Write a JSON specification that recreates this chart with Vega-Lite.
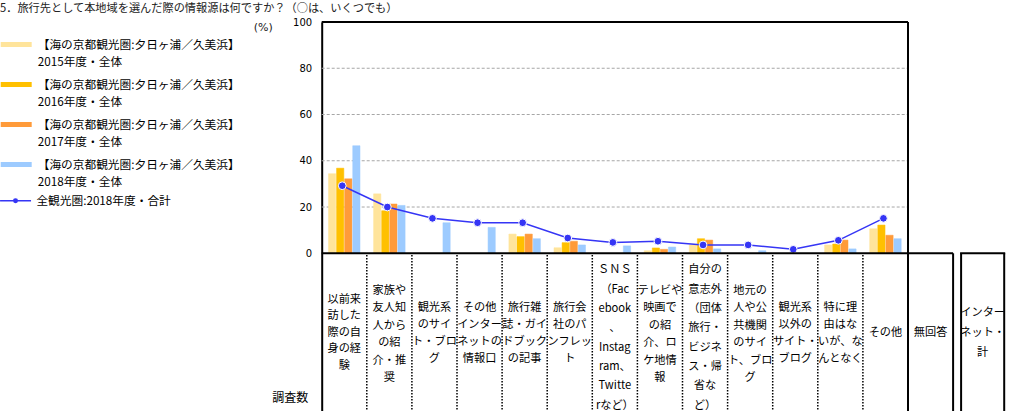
{
  "$schema": "https://vega.github.io/schema/vega-lite/v6.json",
  "autosize": {"type": "none"},
  "width": 676.5,
  "height": 389,
  "padding": {"left": 321.7, "top": 22, "right": 10.8, "bottom": 0},
  "background": "white",
  "title": {
    "text": "5．旅行先として本地域を選んだ際の情報源は何ですか？（○は、いくつでも）",
    "anchor": "start",
    "frame": "group",
    "dx": -321.7,
    "dy": 1,
    "offset": 4,
    "font": "Noto Sans CJK JP",
    "fontSize": 11.2,
    "fontWeight": "normal",
    "color": "#222"
  },
  "config": {
    "view": {"stroke": null},
    "style": {"guide-label": {"lineHeight": 17}},
    "axisY": {
      "grid": false, "ticks": false,
      "domain": true, "domainColor": "black", "domainWidth": 2,
      "labelFont": "DejaVu Sans", "labelFontSize": 10, "labelColor": "black", "labelPadding": 10,
      "titleFont": "DejaVu Sans", "titleFontSize": 11, "titleFontWeight": "normal", "titleColor": "#222"
    }
  },
  "datasets": {
    "bars": [
      {"cat": "以前来訪した際の自身の経験", "series": "2015年度・全体", "value": 34.4},
      {"cat": "以前来訪した際の自身の経験", "series": "2016年度・全体", "value": 36.8},
      {"cat": "以前来訪した際の自身の経験", "series": "2017年度・全体", "value": 32.2},
      {"cat": "以前来訪した際の自身の経験", "series": "2018年度・全体", "value": 46.5},
      {"cat": "家族や友人知人からの紹介・推奨", "series": "2015年度・全体", "value": 25.7},
      {"cat": "家族や友人知人からの紹介・推奨", "series": "2016年度・全体", "value": 18.4},
      {"cat": "家族や友人知人からの紹介・推奨", "series": "2017年度・全体", "value": 21.3},
      {"cat": "家族や友人知人からの紹介・推奨", "series": "2018年度・全体", "value": 20.7},
      {"cat": "観光系のサイト・ブログ", "series": "2018年度・全体", "value": 13.2},
      {"cat": "その他インターネットの情報口コミ", "series": "2018年度・全体", "value": 11.2},
      {"cat": "旅行雑誌・ガイドブックの記事", "series": "2015年度・全体", "value": 8.3},
      {"cat": "旅行雑誌・ガイドブックの記事", "series": "2016年度・全体", "value": 7.2},
      {"cat": "旅行雑誌・ガイドブックの記事", "series": "2017年度・全体", "value": 8.3},
      {"cat": "旅行雑誌・ガイドブックの記事", "series": "2018年度・全体", "value": 6.3},
      {"cat": "旅行会社のパンフレット", "series": "2015年度・全体", "value": 2.4},
      {"cat": "旅行会社のパンフレット", "series": "2016年度・全体", "value": 4.6},
      {"cat": "旅行会社のパンフレット", "series": "2017年度・全体", "value": 5.2},
      {"cat": "旅行会社のパンフレット", "series": "2018年度・全体", "value": 3.6},
      {"cat": "SNS（Facebook、Instagram、Twitterなど）", "series": "2018年度・全体", "value": 3.2},
      {"cat": "テレビや映画での紹介、ロケ地情報", "series": "2015年度・全体", "value": 1.1},
      {"cat": "テレビや映画での紹介、ロケ地情報", "series": "2016年度・全体", "value": 2.3},
      {"cat": "テレビや映画での紹介、ロケ地情報", "series": "2017年度・全体", "value": 1.7},
      {"cat": "テレビや映画での紹介、ロケ地情報", "series": "2018年度・全体", "value": 2.7},
      {"cat": "自分の意志外（団体旅行・ビジネス・帰省など）", "series": "2015年度・全体", "value": 3.6},
      {"cat": "自分の意志外（団体旅行・ビジネス・帰省など）", "series": "2016年度・全体", "value": 6.3},
      {"cat": "自分の意志外（団体旅行・ビジネス・帰省など）", "series": "2017年度・全体", "value": 5.7},
      {"cat": "自分の意志外（団体旅行・ビジネス・帰省など）", "series": "2018年度・全体", "value": 1.9},
      {"cat": "地元の人や公共機関のサイト、ブログ", "series": "2018年度・全体", "value": 1.1},
      {"cat": "特に理由はないが、なんとなく", "series": "2015年度・全体", "value": 3.6},
      {"cat": "特に理由はないが、なんとなく", "series": "2016年度・全体", "value": 4.0},
      {"cat": "特に理由はないが、なんとなく", "series": "2017年度・全体", "value": 5.7},
      {"cat": "特に理由はないが、なんとなく", "series": "2018年度・全体", "value": 1.9},
      {"cat": "その他", "series": "2015年度・全体", "value": 10.6},
      {"cat": "その他", "series": "2016年度・全体", "value": 12.2},
      {"cat": "その他", "series": "2017年度・全体", "value": 7.8},
      {"cat": "その他", "series": "2018年度・全体", "value": 6.3}
    ],
    "line": [
      {"cat": "以前来訪した際の自身の経験", "series": "全観光圏:2018年度・合計", "value": 29.2},
      {"cat": "家族や友人知人からの紹介・推奨", "series": "全観光圏:2018年度・合計", "value": 20.0},
      {"cat": "観光系のサイト・ブログ", "series": "全観光圏:2018年度・合計", "value": 15.1},
      {"cat": "その他インターネットの情報口コミ", "series": "全観光圏:2018年度・合計", "value": 13.2},
      {"cat": "旅行雑誌・ガイドブックの記事", "series": "全観光圏:2018年度・合計", "value": 13.2},
      {"cat": "旅行会社のパンフレット", "series": "全観光圏:2018年度・合計", "value": 6.6},
      {"cat": "SNS（Facebook、Instagram、Twitterなど）", "series": "全観光圏:2018年度・合計", "value": 4.7},
      {"cat": "テレビや映画での紹介、ロケ地情報", "series": "全観光圏:2018年度・合計", "value": 5.2},
      {"cat": "自分の意志外（団体旅行・ビジネス・帰省など）", "series": "全観光圏:2018年度・合計", "value": 3.6},
      {"cat": "地元の人や公共機関のサイト、ブログ", "series": "全観光圏:2018年度・合計", "value": 3.6},
      {"cat": "観光系以外のサイト・ブログ", "series": "全観光圏:2018年度・合計", "value": 1.7},
      {"cat": "特に理由はないが、なんとなく", "series": "全観光圏:2018年度・合計", "value": 5.6},
      {"cat": "その他", "series": "全観光圏:2018年度・合計", "value": 15.1}
    ],
    "cats": [
      {"cat": "以前来訪した際の自身の経験", "lines": ["以前来", "訪した", "際の自", "身の経", "験"]},
      {"cat": "家族や友人知人からの紹介・推奨", "lines": ["家族や", "友人知", "人から", "の紹", "介・推", "奨"]},
      {"cat": "観光系のサイト・ブログ", "lines": ["観光系", "のサイ", "ト・ブロ", "グ"]},
      {"cat": "その他インターネットの情報口コミ", "lines": ["その他", "インター", "ネットの", "情報口"]},
      {"cat": "旅行雑誌・ガイドブックの記事", "lines": ["旅行雑", "誌・ガイ", "ドブック", "の記事"]},
      {"cat": "旅行会社のパンフレット", "lines": ["旅行会", "社のパ", "ンフレッ", "ト"]},
      {"cat": "SNS（Facebook、Instagram、Twitterなど）", "lines": ["ＳＮＳ", "（Fac", "ebook", "、", "Instag", "ram、", "Twitte", "rなど）"]},
      {"cat": "テレビや映画での紹介、ロケ地情報", "lines": ["テレビや", "映画で", "の紹", "介、ロ", "ケ地情", "報"]},
      {"cat": "自分の意志外（団体旅行・ビジネス・帰省など）", "lines": ["自分の", "意志外", "（団体", "旅行・", "ビジネ", "ス・帰", "省な", "ど）"]},
      {"cat": "地元の人や公共機関のサイト、ブログ", "lines": ["地元の", "人や公", "共機関", "のサイ", "ト、ブロ", "グ"]},
      {"cat": "観光系以外のサイト・ブログ", "lines": ["観光系", "以外の", "サイト・", "ブログ"]},
      {"cat": "特に理由はないが、なんとなく", "lines": ["特に理", "由はな", "いが、な", "んとなく"]},
      {"cat": "その他", "lines": ["その他"]},
      {"cat": "無回答", "lines": ["無回答"]},
      {"cat": "インターネット計", "lines": ["インター", "ネット・", "計"]}
    ],
    "seps": [
      {"cat": "家族や友人知人からの紹介・推奨"},
      {"cat": "観光系のサイト・ブログ"},
      {"cat": "その他インターネットの情報口コミ"},
      {"cat": "旅行雑誌・ガイドブックの記事"},
      {"cat": "旅行会社のパンフレット"},
      {"cat": "SNS（Facebook、Instagram、Twitterなど）"},
      {"cat": "テレビや映画での紹介、ロケ地情報"},
      {"cat": "自分の意志外（団体旅行・ビジネス・帰省など）"},
      {"cat": "地元の人や公共機関のサイト、ブログ"},
      {"cat": "観光系以外のサイト・ブログ"},
      {"cat": "特に理由はないが、なんとなく"},
      {"cat": "その他"}
    ],
    "grid": [{"g": 20}, {"g": 40}, {"g": 60}, {"g": 80}],
    "one": [{"t": "調査数"}]
  },
  "layer": [
    {
      "data": {"name": "grid"},
      "mark": {"type": "rule", "color": "#a6a6a6", "strokeWidth": 1, "strokeDash": [3, 2]},
      "encoding": {
        "y": {"field": "g", "type": "quantitative"},
        "x": {"datum": "以前来訪した際の自身の経験", "type": "nominal", "bandPosition": 0, "axis": null},
        "x2": {"datum": "その他", "bandPosition": 1}
      }
    },
    {
      "data": {"name": "bars"},
      "mark": {"type": "bar", "strokeWidth": 0.5},
      "encoding": {
        "x": {
          "field": "cat", "type": "nominal", "axis": null,
          "scale": {
            "domain": ["以前来訪した際の自身の経験", "家族や友人知人からの紹介・推奨", "観光系のサイト・ブログ", "その他インターネットの情報口コミ", "旅行雑誌・ガイドブックの記事", "旅行会社のパンフレット", "SNS（Facebook、Instagram、Twitterなど）", "テレビや映画での紹介、ロケ地情報", "自分の意志外（団体旅行・ビジネス・帰省など）", "地元の人や公共機関のサイト、ブログ", "観光系以外のサイト・ブログ", "特に理由はないが、なんとなく", "その他", "無回答", "インターネット計"],
            "paddingInner": 0, "paddingOuter": 0
          }
        },
        "xOffset": {
          "field": "series", "type": "nominal",
          "scale": {"domain": ["2015年度・全体", "2016年度・全体", "2017年度・全体", "2018年度・全体"], "paddingInner": 0.1, "paddingOuter": 0.84}
        },
        "y": {
          "field": "value", "type": "quantitative",
          "scale": {"domain": [-68.2, 100], "nice": false, "zero": false},
          "axis": {
            "values": [0, 20, 40, 60, 80, 100],
            "title": "(%)", "titleAngle": 0, "titleX": -59, "titleY": 5, "titleAlign": "center", "titleBaseline": "middle"
          }
        },
        "y2": {"datum": 0},
        "fill": {
          "field": "series", "type": "nominal",
          "scale": {
            "domain": ["2015年度・全体", "2016年度・全体", "2017年度・全体", "2018年度・全体"],
            "range": ["#FFE49B", "#FFC000", "#FF9B3A", "#9DCBFF"]
          },
          "legend": {
            "orient": "none", "legendX": -320, "legendY": 16,
            "title": null, "padding": 0,
            "symbolType": "M-4,0H4", "symbolSize": 60, "symbolStrokeWidth": 5, "symbolOffset": 8,
            "labelFont": "Noto Sans CJK JP", "labelFontSize": 11.7, "labelColor": "black",
            "labelLimit": 0, "labelOffset": 15, "rowPadding": 5, "labelBaseline": "middle",
            "labelExpr": "['【海の京都観光圏:夕日ヶ浦／久美浜】', datum.label]"
          }
        },
        "stroke": {
          "field": "series", "type": "nominal",
          "scale": {
            "domain": ["2015年度・全体", "2016年度・全体", "2017年度・全体", "2018年度・全体"],
            "range": ["#FFE49B", "#FFC000", "#FF9B3A", "#9DCBFF"]
          },
          "legend": {
            "orient": "none", "legendX": -320, "legendY": 16,
            "title": null, "padding": 0,
            "symbolType": "M-4,0H4", "symbolSize": 60, "symbolStrokeWidth": 5, "symbolOffset": 8,
            "labelFont": "Noto Sans CJK JP", "labelFontSize": 11.7, "labelColor": "black",
            "labelLimit": 0, "labelOffset": 15, "rowPadding": 5, "labelBaseline": "middle",
            "labelExpr": "['【海の京都観光圏:夕日ヶ浦／久美浜】', datum.label]"
          }
        }
      }
    },
    {
      "data": {"name": "line"},
      "mark": {"type": "line", "strokeWidth": 1.5, "xOffset": -2},
      "encoding": {
        "x": {"field": "cat", "type": "nominal", "axis": null},
        "y": {"field": "value", "type": "quantitative"},
        "color": {
          "field": "series", "type": "nominal",
          "scale": {"domain": ["全観光圏:2018年度・合計"], "range": ["#3535F5"]},
          "legend": {
            "orient": "none", "legendX": -320, "legendY": 173,
            "title": null, "padding": 0,
            "symbolType": "M-4,0H4M-0.45,0A0.45,0.45,0,1,0,0.45,0A0.45,0.45,0,1,0,-0.45,0",
            "symbolSize": 60, "symbolStrokeWidth": 1.5, "symbolOffset": 8, "symbolFillColor": "#3535F5",
            "labelFont": "Noto Sans CJK JP", "labelFontSize": 11.7, "labelColor": "black",
            "labelLimit": 0, "labelOffset": 15, "labelBaseline": "middle"
          }
        }
      }
    },
    {
      "data": {"name": "line"},
      "mark": {"type": "point", "filled": true, "size": 60, "color": "#3535F5", "stroke": "white", "strokeWidth": 1, "opacity": 1, "xOffset": -2},
      "encoding": {
        "x": {"field": "cat", "type": "nominal", "axis": null},
        "y": {"field": "value", "type": "quantitative"}
      }
    },
    {
      "data": {"name": "one"},
      "mark": {"type": "rule", "color": "black", "strokeWidth": 2},
      "encoding": {
        "y": {"datum": 100, "type": "quantitative"},
        "x": {"datum": "以前来訪した際の自身の経験", "type": "nominal", "bandPosition": 0, "axis": null},
        "x2": {"datum": "その他", "bandPosition": 1}
      }
    },
    {
      "data": {"name": "one"},
      "mark": {"type": "rule", "color": "black", "strokeWidth": 2},
      "encoding": {
        "y": {"datum": 0, "type": "quantitative"},
        "x": {"datum": "以前来訪した際の自身の経験", "type": "nominal", "bandPosition": 0, "axis": null},
        "x2": {"datum": "無回答", "bandPosition": 1}
      }
    },
    {
      "data": {"name": "one"},
      "mark": {"type": "rule", "color": "black", "strokeWidth": 2},
      "encoding": {
        "x": {"datum": "無回答", "type": "nominal", "bandPosition": 0, "axis": null},
        "y": {"datum": 100, "type": "quantitative"},
        "y2": {"datum": -68.2}
      }
    },
    {
      "data": {"name": "one"},
      "mark": {"type": "rule", "color": "black", "strokeWidth": 2},
      "encoding": {
        "x": {"datum": "インターネット計", "type": "nominal", "bandPosition": 0, "axis": null},
        "y": {"datum": 0, "type": "quantitative"},
        "y2": {"datum": -68.2}
      }
    },
    {
      "data": {"name": "one"},
      "mark": {"type": "rule", "color": "black", "strokeWidth": 2, "xOffset": 8},
      "encoding": {
        "x": {"datum": "インターネット計", "type": "nominal", "bandPosition": 0, "axis": null},
        "y": {"datum": 0, "type": "quantitative"},
        "y2": {"datum": -68.2}
      }
    },
    {
      "data": {"name": "one"},
      "mark": {"type": "rule", "color": "black", "strokeWidth": 2, "xOffset": 6},
      "encoding": {
        "x": {"datum": "インターネット計", "type": "nominal", "bandPosition": 1, "axis": null},
        "y": {"datum": 0, "type": "quantitative"},
        "y2": {"datum": -68.2}
      }
    },
    {
      "data": {"name": "one"},
      "mark": {"type": "rule", "color": "black", "strokeWidth": 2, "xOffset": 7, "x2Offset": 7},
      "encoding": {
        "y": {"datum": 0, "type": "quantitative"},
        "x": {"datum": "インターネット計", "type": "nominal", "bandPosition": 0, "axis": null},
        "x2": {"datum": "インターネット計", "bandPosition": 1}
      }
    },
    {
      "data": {"name": "seps"},
      "mark": {"type": "rule", "color": "black", "strokeWidth": 1.5, "strokeDash": [1.5, 1.5]},
      "encoding": {
        "x": {"field": "cat", "type": "nominal", "bandPosition": 0, "axis": null},
        "y": {"datum": -0.8, "type": "quantitative"},
        "y2": {"datum": -68.2}
      }
    },
    {
      "data": {"name": "cats"},
      "transform": [{"filter": "length(datum.lines) == 1"}],
      "mark": {"type": "text", "font": "Noto Sans CJK JP", "fontSize": 11.2, "color": "black", "baseline": "middle", "align": "center", "dy": -1},
      "encoding": {
        "x": {"field": "cat", "type": "nominal", "axis": null},
        "y": {"datum": -34.9, "type": "quantitative"},
        "text": {"field": "lines", "type": "nominal"}
      }
    },
    {
      "data": {"name": "cats"},
      "transform": [{"filter": "length(datum.lines) == 3"}],
      "mark": {"type": "text", "font": "Noto Sans CJK JP", "fontSize": 11.2, "color": "black", "baseline": "middle", "align": "center", "lineHeight": 20, "dy": -21, "xOffset": 7},
      "encoding": {
        "x": {"field": "cat", "type": "nominal", "axis": null},
        "y": {"datum": -34.9, "type": "quantitative"},
        "text": {"field": "lines", "type": "nominal"}
      }
    },
    {
      "data": {"name": "cats"},
      "transform": [{"filter": "length(datum.lines) == 4"}],
      "mark": {"type": "text", "font": "Noto Sans CJK JP", "fontSize": 11.2, "color": "black", "baseline": "middle", "align": "center", "lineHeight": 17, "dy": -25.5},
      "encoding": {
        "x": {"field": "cat", "type": "nominal", "axis": null},
        "y": {"datum": -34.9, "type": "quantitative"},
        "text": {"field": "lines", "type": "nominal"}
      }
    },
    {
      "data": {"name": "cats"},
      "transform": [{"filter": "length(datum.lines) == 5"}],
      "mark": {"type": "text", "font": "Noto Sans CJK JP", "fontSize": 11.2, "color": "black", "baseline": "middle", "align": "center", "lineHeight": 16.5, "dy": -34},
      "encoding": {
        "x": {"field": "cat", "type": "nominal", "axis": null},
        "y": {"datum": -34.9, "type": "quantitative"},
        "text": {"field": "lines", "type": "nominal"}
      }
    },
    {
      "data": {"name": "cats"},
      "transform": [{"filter": "length(datum.lines) == 6"}],
      "mark": {"type": "text", "font": "Noto Sans CJK JP", "fontSize": 11.2, "color": "black", "baseline": "middle", "align": "center", "lineHeight": 17.5, "dy": -43},
      "encoding": {
        "x": {"field": "cat", "type": "nominal", "axis": null},
        "y": {"datum": -34.9, "type": "quantitative"},
        "text": {"field": "lines", "type": "nominal"}
      }
    },
    {
      "data": {"name": "cats"},
      "transform": [{"filter": "length(datum.lines) == 8"}],
      "mark": {"type": "text", "font": "Noto Sans CJK JP", "fontSize": 11.2, "color": "black", "baseline": "middle", "align": "center", "lineHeight": 19.3, "dy": -63.5},
      "encoding": {
        "x": {"field": "cat", "type": "nominal", "axis": null},
        "y": {"datum": -34.9, "type": "quantitative"},
        "text": {"field": "lines", "type": "nominal"}
      }
    },
    {
      "data": {"name": "one"},
      "mark": {"type": "text", "font": "Noto Sans CJK JP", "fontSize": 12, "color": "black", "baseline": "middle", "align": "center", "xOffset": -54},
      "encoding": {
        "x": {"datum": "以前来訪した際の自身の経験", "type": "nominal", "axis": null},
        "y": {"datum": -62.6, "type": "quantitative"},
        "text": {"field": "t", "type": "nominal"}
      }
    }
  ]
}
